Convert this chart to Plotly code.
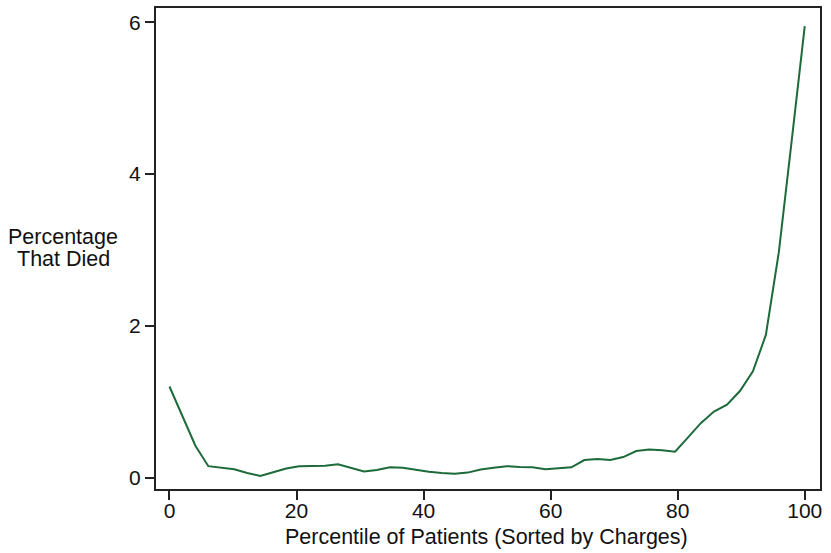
import plotly.graph_objects as go

percentile = [0.0, 2.04, 4.08, 6.12, 8.16, 10.2, 12.24, 14.29, 16.33, 18.37,
              20.41, 22.45, 24.49, 26.53, 28.57, 30.61, 32.65, 34.69, 36.73, 38.78,
              40.82, 42.86, 44.9, 46.94, 48.98, 51.02, 53.06, 55.1, 57.14, 59.18,
              61.22, 63.27, 65.31, 67.35, 69.39, 71.43, 73.47, 75.51, 77.55, 79.59,
              81.63, 83.67, 85.71, 87.76, 89.8, 91.84, 93.88, 95.92, 97.96, 100.0]
pct_died = [1.20, 0.80, 0.42, 0.15, 0.13, 0.11, 0.06, 0.02, 0.07, 0.12,
            0.15, 0.15, 0.155, 0.175, 0.13, 0.08, 0.10, 0.135, 0.13, 0.10,
            0.075, 0.06, 0.05, 0.065, 0.105, 0.13, 0.15, 0.14, 0.135, 0.11,
            0.12, 0.135, 0.23, 0.245, 0.23, 0.27, 0.35, 0.37, 0.36, 0.34,
            0.53, 0.72, 0.87, 0.96, 1.14, 1.40, 1.88, 2.97, 4.45, 5.95]

x_ticks = [0, 20, 40, 60, 80, 100]
y_ticks = [0, 2, 4, 6]
y_title_lines = ["Percentage", "That Died"]
x_title = "Percentile of Patients (Sorted by Charges)"

fig = go.Figure()
fig.add_trace(go.Scatter(x=percentile, y=pct_died, mode="lines",
                         line=dict(color="#1d6a3a", width=2), showlegend=False))

tick_font = dict(family="Liberation Sans, Arial, sans-serif", size=21, color="#111")
title_font = dict(family="Liberation Sans, Arial, sans-serif", size=21.5, color="#111")
axis_common = dict(ticks="outside", ticklen=9, tickwidth=1.5, tickcolor="#222",
                   showline=True, linecolor="#222", linewidth=2, mirror=True,
                   showgrid=False, zeroline=False, tickfont=tick_font)
annotations = [
    dict(text=y_title_lines[0], xref="paper", yref="paper",
         x=-0.14, y=0.5238, xanchor="center", yanchor="middle",
         showarrow=False, font=title_font),
    dict(text=y_title_lines[1], xref="paper", yref="paper",
         x=-0.14, y=0.4783, xanchor="center", yanchor="middle",
         showarrow=False, font=title_font),
    dict(text=x_title, xref="paper", yref="paper",
         x=0.497, y=-0.0994, xanchor="center", yanchor="middle",
         showarrow=False, font=title_font),
]
fig.update_layout(
    width=831, height=553,
    margin=dict(l=156, r=11, t=6, b=64),
    paper_bgcolor="white", plot_bgcolor="white",
    font=tick_font,
    xaxis=dict(range=[-2.12, 102.4], tickvals=x_ticks, ticklabelstandoff=-7, **axis_common),
    yaxis=dict(range=[-0.151, 6.188], tickvals=y_ticks, **axis_common),
    annotations=annotations,
)
fig.write_html("out.html", config={"displayModeBar": False},
               post_script="document.body.style.margin='0px';")
